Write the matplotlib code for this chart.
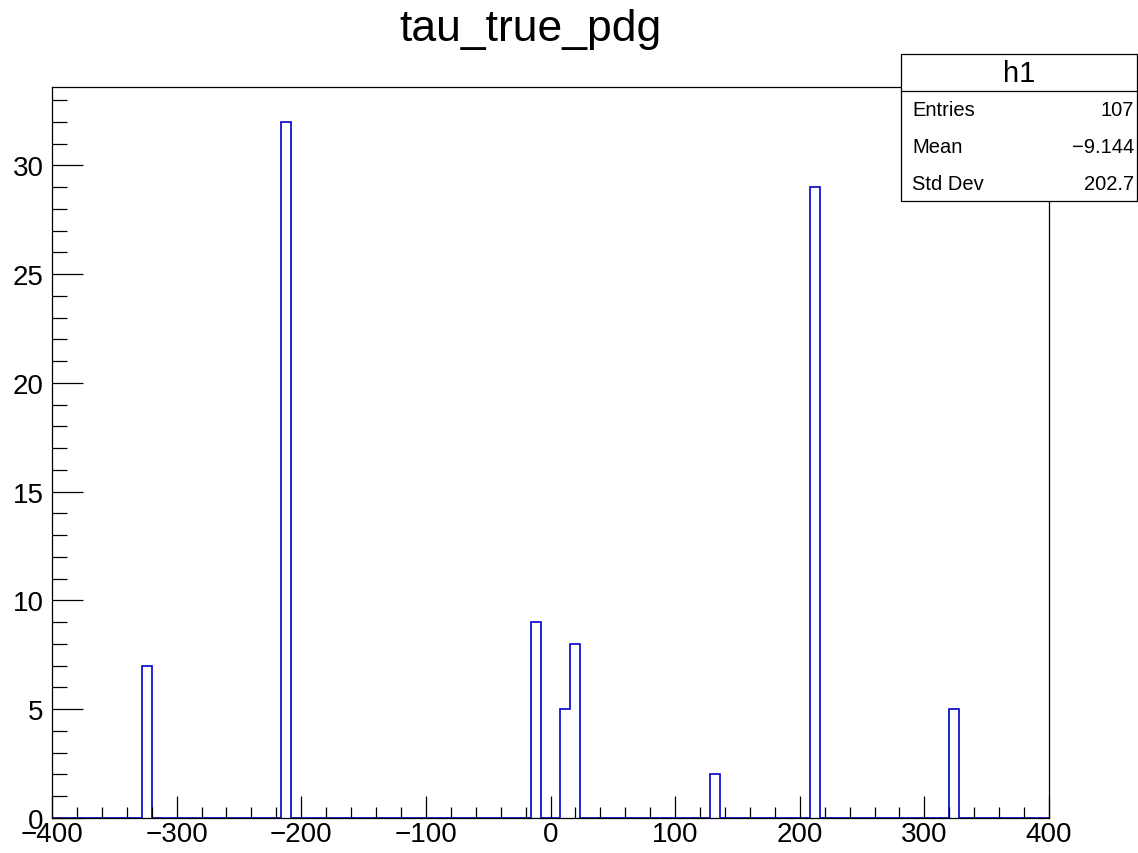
import numpy as np
import matplotlib.pyplot as plt
from matplotlib.patches import Rectangle
from matplotlib.ticker import MultipleLocator

plt.rcParams['font.family'] = ['Liberation Sans', 'DejaVu Sans']

# histogram definition: 100 bins from -400 to 400
n_bins = 100
x_min, x_max = -400, 400
# left edges of filled bins and their counts
bin_lo = [-328, -216, -16, 8, 16, 128, 208, 320]
bin_counts = [7, 32, 9, 5, 8, 2, 29, 5]

stat_names = ["Entries", "Mean", "Std Dev"]
stat_values = ["107", "\u22129.144", "202.7"]

edges = np.linspace(x_min, x_max, n_bins + 1)
counts = np.zeros(n_bins)
for lo, c in zip(bin_lo, bin_counts):
    idx = int(round((lo - x_min) / (edges[1] - edges[0])))
    counts[idx] = c

W, H = 1138, 854
fig = plt.figure(figsize=(W / 100, H / 100), dpi=100)
ax = fig.add_axes([52 / W, 1 - 819 / H, 997 / W, 731 / H])

ax.stairs(counts, edges, color="#0000cc", linewidth=1.2, baseline=0)
ax.set_xlim(x_min, x_max)
ax.set_ylim(0, max(bin_counts) * 1.05)

ax.xaxis.set_major_locator(MultipleLocator(100))
ax.xaxis.set_minor_locator(MultipleLocator(20))
ax.yaxis.set_major_locator(MultipleLocator(5))
ax.yaxis.set_minor_locator(MultipleLocator(1))
ax.tick_params(axis='x', which='major', direction='in', length=16, width=0.9, labelsize=20, pad=2)
ax.tick_params(axis='x', which='minor', direction='in', length=8, width=0.9)
ax.tick_params(axis='y', which='major', direction='in', length=22, width=0.9, labelsize=20, pad=6)
ax.tick_params(axis='y', which='minor', direction='in', length=11, width=0.9)
for s in ax.spines.values():
    s.set_linewidth(0.9)

fig.text(531 / W, 1 - 30 / H, "tau_true_pdg", ha='center', va='center', fontsize=32)

# stats box
bx0, bx1, by0, by1 = 901, 1137, 55, 202
fig.patches.append(Rectangle((bx0 / W, 1 - by1 / H), (bx1 - bx0) / W, (by1 - by0) / H,
                             transform=fig.transFigure, facecolor='white',
                             edgecolor='black', linewidth=0.9, zorder=5))
fig.add_artist(plt.Line2D([bx0 / W, bx1 / W], [1 - 92 / H, 1 - 92 / H],
                          transform=fig.transFigure, color='black', linewidth=0.9, zorder=6))
fig.text((bx0 + bx1) / 2 / W, 1 - 74 / H, "h1", ha='center', va='center', fontsize=21, zorder=7)
for i, (name, val) in enumerate(zip(stat_names, stat_values)):
    y = 1 - (111 + 36.5 * i) / H
    fig.text(912 / W, y, name, ha='left', va='center', fontsize=14.5, zorder=7)
    fig.text(1134 / W, y, val, ha='right', va='center', fontsize=14.5, zorder=7)

fig.savefig("out.png", dpi=100)
